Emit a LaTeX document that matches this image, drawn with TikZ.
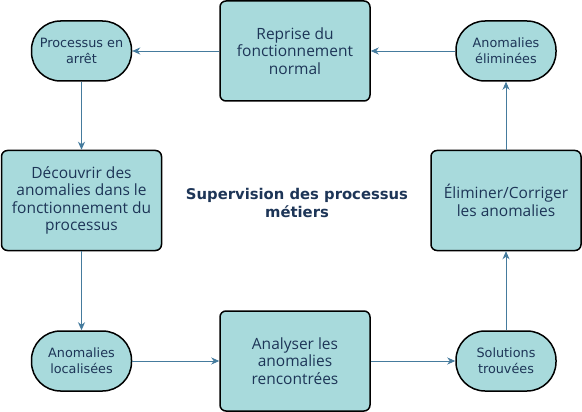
\documentclass[tikz,border=0pt]{standalone}
\usepackage{fontspec}
\setmainfont{DejaVu Sans}
\newfontfamily\boitefont{Open Sans}
\usetikzlibrary{arrows.meta}
\definecolor{tealclair}{HTML}{A8DADC}
\definecolor{bleuacier}{HTML}{457B9D}
\definecolor{bleunuit}{HTML}{1D3557}

\begin{document}
\begin{tikzpicture}[x=1pt, y=-1pt,
        stade/.style={draw=black, line width=1.5pt, fill=tealclair, rounded corners=29pt,
            minimum width=100pt, minimum height=60pt, align=center, text=bleunuit,
            font=\fontsize{12.8}{15.7}\selectfont},
        boite/.style={draw=black, line width=1.5pt, fill=tealclair, rounded corners=6pt,
            minimum width=150pt, minimum height=100pt, align=center, text=bleunuit,
            font=\boitefont\fontsize{15.5}{17.6}\selectfont},
        fleche/.style={draw=bleuacier, line width=0.9pt, -{Stealth[length=8pt,width=7pt,inset=2.5pt]}}]
                \useasboundingbox (0,0) rectangle (582,412);
                % haut
                \node (arret) at (81.5,51) [stade] {Processus en\\arrêt};
                \node (reprise) at (295,51) [boite] {Reprise du\\fonctionnement\\normal};
                \node (eliminees) at (506,51) [stade] {Anomalies\\éliminées};
                % milieu
                \node (decouvrir) at (81.5,200.5) [boite, minimum width=160pt] {Découvrir des\\anomalies dans le\\fonctionnement du\\processus};
                \node (titre) at (297,203) [align=center, text=bleunuit, font=\bfseries\fontsize{14.8}{17.5}\selectfont] {Supervision des processus\\métiers};
                \node (eliminer) at (506,200.5) [boite] {Éliminer/Corriger\\les anomalies};
                % bas
                \node (localisees) at (81.5,361) [stade] {Anomalies\\localisées};
                \node (analyser) at (295,361) [boite] {Analyser les\\anomalies\\rencontrées};
                \node (solutions) at (506,361) [stade] {Solutions\\trouvées};
                % fleches
                \draw[fleche] (reprise) -- (arret);
                \draw[fleche] (arret) -- (decouvrir);
                \draw[fleche] (decouvrir) -- (localisees);
                \draw[fleche] (localisees) -- (analyser);
                \draw[fleche] (analyser) -- (solutions);
                \draw[fleche] (solutions) -- (eliminer);
                \draw[fleche] (eliminer) -- (eliminees);
                \draw[fleche] (eliminees) -- (reprise);
            \end{tikzpicture}
\end{document}
